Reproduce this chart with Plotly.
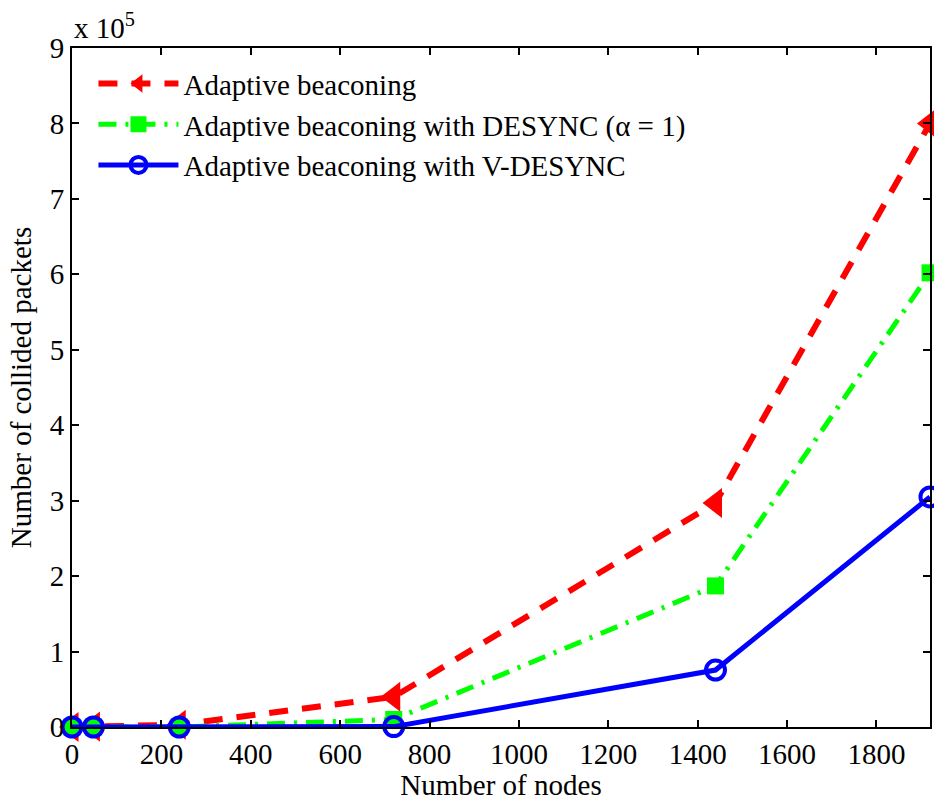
import plotly.graph_objects as go

# Number of nodes in each scenario
nodes = [0, 48, 240, 720, 1440, 1920]

# Collided packets, in units of 1e5
adaptive = [0.0, 0.005, 0.03, 0.40, 2.97, 8.0]
adaptive_desync = [0.0, 0.0, 0.0, 0.10, 1.87, 6.02]
adaptive_vdesync = [0.0, 0.0, 0.0, 0.005, 0.755, 3.05]

series_names = [
    "Adaptive beaconing",
    "Adaptive beaconing with DESYNC (\u03b1 = 1)",
    "Adaptive beaconing with V-DESYNC",
]

x_ticks = [0, 200, 400, 600, 800, 1000, 1200, 1400, 1600, 1800]
y_ticks = [0, 1, 2, 3, 4, 5, 6, 7, 8, 9]

FONT = "Liberation Serif, Times New Roman, serif"

fig = go.Figure()

fig.add_trace(go.Scatter(
    x=nodes, y=adaptive, name=series_names[0], mode="lines+markers",
    line=dict(color="#ff0000", width=6, dash="19px,14px"),
    marker=dict(symbol="triangle-left", size=26, color="#ff0000"),
    cliponaxis=False,
))
fig.add_trace(go.Scatter(
    x=nodes, y=adaptive_desync, name=series_names[1], mode="lines+markers",
    line=dict(color="#00ff00", width=5, dash="18px,9px,3px,9px"),
    marker=dict(symbol="square", size=17, color="#00ff00"),
    cliponaxis=False,
))
fig.add_trace(go.Scatter(
    x=nodes, y=adaptive_vdesync, name=series_names[2], mode="lines+markers",
    line=dict(color="#0000ff", width=5),
    marker=dict(symbol="circle-open", size=19, color="#0000ff",
                line=dict(width=4, color="#0000ff")),
    cliponaxis=False,
))

axis_common = dict(
    showline=True, linecolor="black", linewidth=2, mirror="allticks",
    ticks="inside", ticklen=7, tickwidth=1.5, tickcolor="black",
    showgrid=False, zeroline=False,
    tickfont=dict(family=FONT, size=29, color="black"),
)

fig.update_xaxes(
    range=[0, 1920], tickvals=x_ticks, ticktext=[str(v) for v in x_ticks],
    title=dict(text="Number of nodes", font=dict(family=FONT, size=29, color="black"),
               standoff=2),
    **axis_common,
)
fig.update_yaxes(
    range=[0, 9], tickvals=y_ticks, ticktext=[str(v) for v in y_ticks],
    title=dict(text="Number of collided packets",
               font=dict(family=FONT, size=29, color="black"), standoff=10),
    **axis_common,
)

fig.add_annotation(
    xref="paper", yref="paper", x=0.0, y=1.0, xanchor="left", yanchor="bottom",
    text="x 10<sup>5</sup>", showarrow=False,
    font=dict(family=FONT, size=29, color="black"), yshift=2,
)

fig.update_layout(
    width=934, height=801,
    margin=dict(l=72, r=2, t=48, b=74),
    paper_bgcolor="white", plot_bgcolor="white",
    showlegend=True,
    legend=dict(
        x=0.025, y=0.985, xanchor="left", yanchor="top",
        bgcolor="rgba(0,0,0,0)", borderwidth=0,
        font=dict(family=FONT, size=29, color="black"),
        itemwidth=80, tracegroupgap=0,
    ),
)

fig.write_html("out.html")
